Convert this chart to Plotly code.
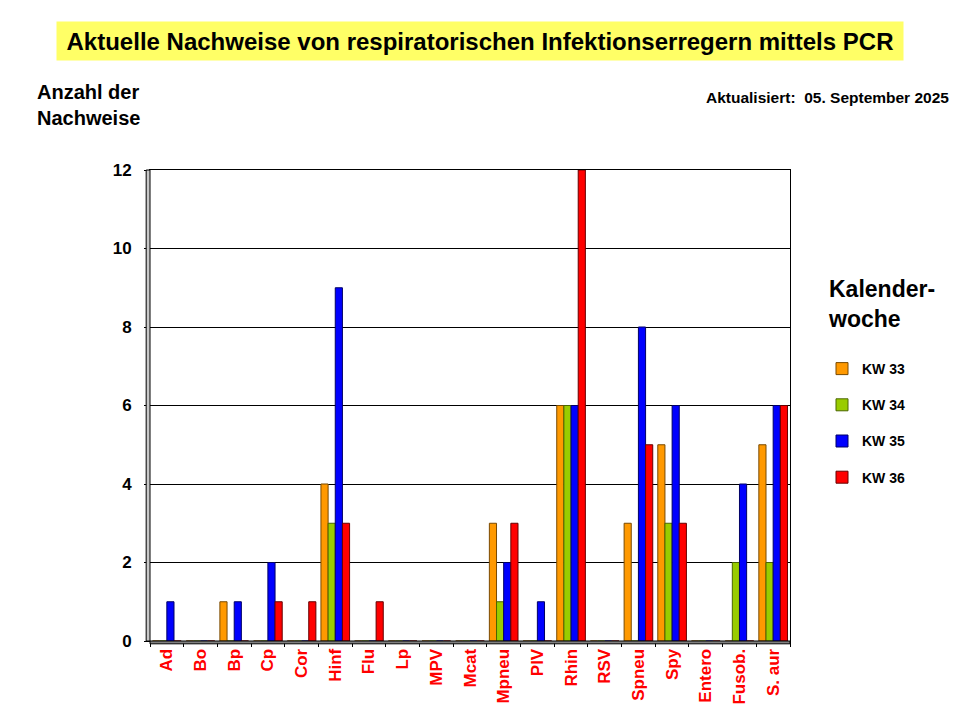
import plotly.graph_objects as go

categories = ["Ad", "Bo", "Bp", "Cp", "Cor", "Hinf", "Flu", "Lp", "MPV", "Mcat",
              "Mpneu", "PIV", "Rhin", "RSV", "Spneu", "Spy", "Entero", "Fusob.", "S. aur"]
kw33 = [0, 0, 1, 0, 0, 4, 0, 0, 0, 0, 3, 0, 6, 0, 3, 5, 0, 0, 5]
kw34 = [0, 0, 0, 0, 0, 3, 0, 0, 0, 0, 1, 0, 6, 0, 0, 3, 0, 2, 2]
kw35 = [1, 0, 1, 2, 0, 9, 0, 0, 0, 0, 2, 1, 6, 0, 8, 6, 0, 4, 6]
kw36 = [0, 0, 0, 1, 1, 3, 1, 0, 0, 0, 3, 0, 12, 0, 5, 3, 0, 0, 6]
series_names = ["KW 33", "KW 34", "KW 35", "KW 36"]
series_values = [kw33, kw34, kw35, kw36]
colors = ["#FF9900", "#99CC00", "#0000FF", "#FF0000"]
edge_colors = ["#7A4A00", "#4A6600", "#000066", "#660000"]
y_ticks = [0, 2, 4, 6, 8, 10, 12]

FONT = "Liberation Sans, Arial, sans-serif"
L, R, T, B = 150, 170, 170, 79
PW, PH = 960 - L - R, 720 - T - B


def px(x):
    return (x - L) / PW


def py(y):
    return (720 - B - y) / PH


fig = go.Figure()
for i, (name, vals) in enumerate(zip(series_names, series_values)):
    fig.add_trace(go.Bar(
        x=categories, y=vals, name=name,
        marker=dict(color=colors[i], line=dict(color=edge_colors[i], width=1)),
        legendgroup=name,
    ))

fig.update_layout(
    width=960, height=720,
    paper_bgcolor="white", plot_bgcolor="white",
    margin=dict(l=L, r=R, t=T, b=B, autoexpand=False),
    barmode="group", bargap=0.15, bargroupgap=0.0,
    font=dict(family=FONT, color="black"),
    showlegend=True,
    legend=dict(x=px(822), y=py(353), xanchor="left", yanchor="top",
                font=dict(family=FONT, size=14, color="black", weight="bold"),
                tracegroupgap=15, itemwidth=30, bgcolor="rgba(0,0,0,0)"),
    xaxis=dict(
        type="category", showline=True, linecolor="black", linewidth=1, mirror=True,
        ticks="outside", ticklen=5, tickcolor="black",
        tickson="boundaries", tickangle=-90,
        tickfont=dict(family=FONT, size=17, color="#FF0000", weight="bold"),
        showgrid=False,
    ),
    yaxis=dict(
        range=[0, 12], tickvals=y_ticks, showline=True, linecolor="black", linewidth=1,
        mirror=True, ticks="outside", ticklen=5, tickcolor="black",
        ticklabelstandoff=9,
        showgrid=True, gridcolor="black", gridwidth=1, zeroline=False,
        tickfont=dict(family=FONT, size=17, color="black", weight="bold"),
    ),
)

# 3D-ish wall on left and floor at bottom
fig.add_shape(type="rect", xref="paper", yref="paper", x0=-0.006, x1=0.0, y0=0, y1=1,
              fillcolor="#C8C8C8", line=dict(color="black", width=1), layer="above")
fig.add_shape(type="rect", xref="paper", yref="paper", x0=0, x1=1, y0=-0.006, y1=0.0,
              fillcolor="#808080", line=dict(color="black", width=1), layer="above")

fig.add_annotation(
    text="Aktuelle Nachweise von respiratorischen Infektionserregern mittels PCR",
    xref="paper", yref="paper", x=px(480), y=py(41),
    xanchor="center", yanchor="middle", showarrow=False,
    font=dict(family=FONT, size=24, color="black", weight="bold"),
    bgcolor="#FFFF66", borderpad=5, width=836, height=28,
)
fig.add_annotation(
    text="Anzahl der<br>Nachweise", xref="paper", yref="paper",
    x=px(35), y=py(79), xanchor="left", yanchor="top",
    align="left", showarrow=False,
    font=dict(family=FONT, size=20, color="black", weight="bold"),
)
fig.add_annotation(
    text="Aktualisiert:  05. September 2025", xref="paper", yref="paper",
    x=px(951), y=py(97), xanchor="right", yanchor="middle",
    showarrow=False,
    font=dict(family=FONT, size=15.5, color="black", weight="bold"),
)
fig.add_annotation(
    text="Kalender-<br>woche", xref="paper", yref="paper",
    x=px(826), y=py(274), xanchor="left", yanchor="top",
    align="left", showarrow=False,
    font=dict(family=FONT, size=23, color="black", weight="bold"),
)

fig.write_html("out.html", config={"displayModeBar": False},
               post_script="document.body.style.margin='0';")
